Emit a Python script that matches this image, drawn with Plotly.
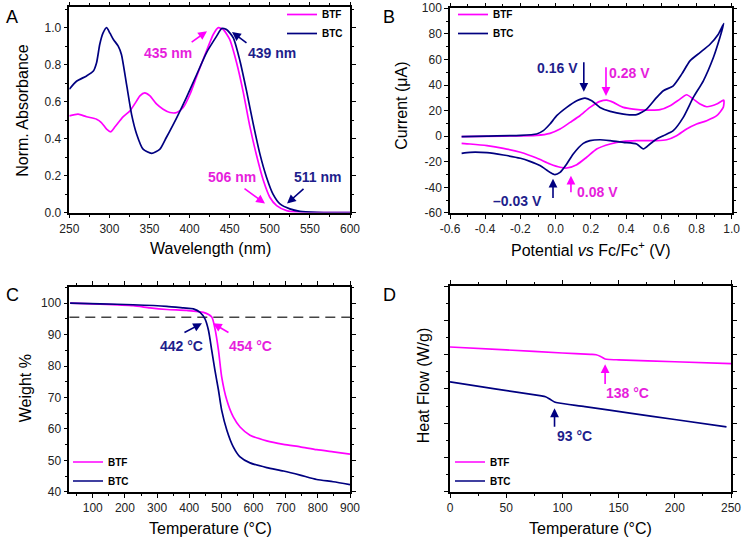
import plotly.graph_objects as go

# ---------------- Panel A: UV-vis ----------------
wl_btc = [250, 259, 271.6, 280, 284, 288, 292, 296.5, 300.7, 305, 311, 315, 321.5, 327.7, 334, 342, 352.6, 363, 371, 384, 396, 409, 421, 433.7, 440, 446, 454.5, 462.8, 471, 479.4, 487.7, 496, 504, 512.7, 525, 537.6, 558, 600]
abs_btc = [0.667, 0.71, 0.739, 0.765, 0.81, 0.91, 0.97, 1.0, 0.97, 0.936, 0.9, 0.855, 0.69, 0.53, 0.424, 0.343, 0.32, 0.343, 0.406, 0.514, 0.622, 0.748, 0.864, 0.954, 0.995, 0.99, 0.945, 0.82, 0.658, 0.478, 0.316, 0.19, 0.10, 0.047, 0.02, 0.007, 0.002, 0.0]
wl_btf = [250, 261, 271.6, 284, 290, 296.5, 301.5, 307, 317, 325.6, 334, 338, 344, 350.6, 359, 367, 375.5, 384, 392, 400.5, 409, 421, 429.5, 435.8, 442, 450, 458.6, 467, 475, 483.6, 492, 500, 508.5, 521, 537.6, 600]
abs_btf = [0.523, 0.532, 0.518, 0.505, 0.487, 0.451, 0.437, 0.464, 0.518, 0.55, 0.604, 0.631, 0.647, 0.631, 0.586, 0.559, 0.541, 0.541, 0.568, 0.64, 0.739, 0.873, 0.963, 1.0, 0.99, 0.936, 0.81, 0.649, 0.469, 0.307, 0.173, 0.083, 0.038, 0.011, 0.002, 0.0]

# ---------------- Panel B: CV ----------------
pot_btc = [-0.534, -0.39, -0.2, -0.108, -0.07, -0.032, 0.006, 0.063, 0.12, 0.167, 0.205, 0.252, 0.31, 0.385, 0.46, 0.517, 0.574, 0.612, 0.668, 0.716, 0.763, 0.82, 0.877, 0.924, 0.955,
           0.933, 0.896, 0.839, 0.782, 0.725, 0.668, 0.612, 0.574, 0.536, 0.498, 0.46, 0.385, 0.31, 0.252, 0.195, 0.157, 0.1, 0.063, 0.025, -0.004, -0.032, -0.089, -0.146, -0.2, -0.297, -0.39, -0.486, -0.534]
cur_btc = [-0.4, 0.1, 0.6, 1.7, 4.3, 9.5, 16, 22.5, 27.7, 29.8, 27.7, 22.5, 19.4, 17.3, 16.8, 21.2, 30.3, 35.5, 39.4, 48.5, 58.9, 65.4, 71.9, 79.7, 88,
           77.1, 61.5, 43.3, 30.3, 14.7, 4.3, 0.4, -2.2, -6.1, -10.0, -6.1, -4.8, -3.5, -2.8, -3.5, -5.6, -13.9, -21.7, -28.3, -30.1, -28.3, -23.0, -19.7, -17.3, -14.7, -12.9, -12.6, -13.4]
pot_btf = [-0.534, -0.297, -0.108, -0.032, 0.025, 0.082, 0.138, 0.195, 0.252, 0.29, 0.328, 0.385, 0.441, 0.517, 0.593, 0.65, 0.706, 0.744, 0.782, 0.82, 0.858, 0.915, 0.955,
           0.952, 0.915, 0.858, 0.801, 0.744, 0.687, 0.631, 0.574, 0.46, 0.385, 0.31, 0.233, 0.176, 0.12, 0.063, 0.025, -0.032, -0.108, -0.2, -0.297, -0.39, -0.486, -0.534]
cur_btf = [-0.4, 0.1, 0.6, 2.2, 5.6, 10.8, 16, 22.5, 27.2, 28.2, 26.4, 22.5, 21.2, 20.4, 20.7, 23.8, 29.0, 32.4, 29.0, 25.1, 23.0, 25.1, 28.2,
           22.5, 16, 12.1, 9.5, 5.6, 0.4, -2.8, -3.5, -3.5, -4.0, -6.1, -10.0, -16.5, -22.3, -24.9, -24.3, -21.7, -17.1, -12.6, -9.5, -7.4, -6.1, -5.6]
pot_ticks = [-0.6, -0.4, -0.2, 0.0, 0.2, 0.4, 0.6, 0.8, 1.0]
pot_ticktext = ["-0.6", "-0.4", "-0.2", "0.0", "0.2", "0.4", "0.6", "0.8", "1.0"]
cur_ticks = [-60, -40, -20, 0, 20, 40, 60, 80, 100]
cur_ticktext = ["-60", "-40", "-20", "0", "20", "40", "60", "80", "100"]

# ---------------- Panel C: TGA ----------------
t_btc = [29.5, 122.8, 226, 330, 382, 413, 433.7, 449, 460, 470, 480, 491, 501, 517, 537, 558, 589, 641, 693, 745, 796.5, 848, 900]
w_btc = [100, 99.8, 99.5, 99.0, 98.5, 98.2, 97.1, 95.0, 91.3, 85.0, 78.6, 72.3, 65.9, 59.6, 54.3, 51.1, 49.2, 47.7, 46.6, 45.3, 43.9, 43.2, 42.3]
t_btf = [29.5, 122.8, 226, 278, 330, 392, 444, 470, 480, 491, 501, 517, 537, 558, 589, 641, 693, 745, 796.5, 848, 900]
w_btf = [100, 99.7, 99.2, 98.5, 98.0, 97.7, 97.1, 95.6, 91.9, 85.0, 76.5, 69.1, 63.8, 60.6, 58.0, 56.2, 55.1, 54.3, 53.4, 52.7, 52.0]
t_limit = [27, 900]
w_limit = [95.5, 95.5]

# ---------------- Panel D: DSC ----------------
t_dsc_btf = [0, 50, 100, 125, 130, 134, 138, 142, 150, 200, 250]
hf_btf = [8.45, 8.28, 8.10, 8.02, 8.0, 7.9, 7.75, 7.72, 7.70, 7.59, 7.48]
t_dsc_btc = [0, 40, 80, 85, 89, 93, 97, 120, 160, 200, 246]
hf_btc = [6.41, 6.01, 5.61, 5.55, 5.40, 5.24, 5.18, 4.97, 4.59, 4.22, 3.79]

MAG = "#FF00FF"
NAVY = "#000080"
MAG_T = "#E61EDC"
NAVY_T = "#1E1E8C"
FONT = "Liberation Sans, Arial, sans-serif"

fig = go.Figure()

def add(x, y, name, color, xa, ya, legend, show=True):
    fig.add_trace(go.Scatter(x=x, y=y, mode="lines", name=name, xaxis=xa, yaxis=ya,
                             line=dict(color=color, width=1.7, shape="spline", smoothing=0.6),
                             legend=legend, showlegend=show, hoverinfo="skip"))

add(wl_btf, abs_btf, "BTF", MAG, "x", "y", "legend")
add(wl_btc, abs_btc, "BTC", NAVY, "x", "y", "legend")
add(pot_btf, cur_btf, "BTF", MAG, "x2", "y2", "legend2")
add(pot_btc, cur_btc, "BTC", NAVY, "x2", "y2", "legend2")
fig.add_trace(go.Scatter(x=t_limit, y=w_limit, mode="lines", xaxis="x3", yaxis="y3", hoverinfo="skip",
                         line=dict(color="#444444", width=1.5, dash="10px,6px"), showlegend=False))
add(t_btf, w_btf, "BTF", MAG, "x3", "y3", "legend3")
add(t_btc, w_btc, "BTC", NAVY, "x3", "y3", "legend3")
add(t_dsc_btf, hf_btf, "BTF", MAG, "x4", "y4", "legend4")
add(t_dsc_btc, hf_btc, "BTC", NAVY, "x4", "y4", "legend4")

W, H = 742, 538
def px(x): return x / W
def py(y): return 1 - y / H

def ax(domain, rng, dtick, minor, anchor, labels=True):
    return dict(domain=domain, range=rng, dtick=dtick, tick0=0, anchor=anchor, automargin=False,
                showline=True, linecolor="black", linewidth=1.5, mirror="ticks",
                ticks="outside", ticklen=4, tickwidth=1.2, tickcolor="black",
                minor=dict(dtick=minor, ticks="outside", ticklen=2.5, tickwidth=1, tickcolor="black"),
                showgrid=False, zeroline=False, showticklabels=labels,
                tickfont=dict(family=FONT, size=12, color="#222222"), ticklabelstandoff=0)

fig.update_layout(
    template="none",
    width=W, height=H, margin=dict(l=0, r=0, t=0, b=0, pad=0), autosize=False,
    paper_bgcolor="white", plot_bgcolor="white", font=dict(family=FONT),
    xaxis=ax([px(69.3), px(350)], [250, 600], 50, 25, "y"),
    yaxis=ax([py(212), py(6.3)], [0, 1.11], 0.2, 0.1, "x"),
    xaxis2=ax([px(450), px(731.7)], [-0.6, 1.0], 0.2, 0.1, "y2"),
    yaxis2=ax([py(212.3), py(7.3)], [-60, 100], 20, 10, "x2"),
    xaxis3=ax([px(69.3), px(350)], [27, 900], 100, 50, "y3"),
    yaxis3=ax([py(491.7), py(286.7)], [40, 105.1], 10, 5, "x3"),
    xaxis4=ax([px(450), px(731)], [0, 250], 50, 25, "y4"),
    yaxis4=ax([py(491.7), py(285.7)], [0, 12], 2, 1, "x4", labels=False),
)
fig.update_layout(yaxis=dict(tickformat=".1f"),
                  xaxis2=dict(tickmode="array", tickvals=pot_ticks, ticktext=pot_ticktext),
                  yaxis2=dict(tickmode="array", tickvals=cur_ticks, ticktext=cur_ticktext))

lf = dict(family=FONT, size=10, color="black", weight="bold")
def leg(x, y):
    return dict(x=px(x), y=py(y), xanchor="left", yanchor="top", bgcolor="rgba(0,0,0,0)",
                font=lf, itemwidth=30, tracegroupgap=0, borderwidth=0)
fig.update_layout(legend=leg(282, -1), legend2=leg(453, -1), legend3=leg(68, 447.5), legend4=leg(450, 447.5))

ann = []
def text(x, y, s, size=15, color="black", angle=0, weight="normal", xref="paper", yref="paper"):
    ann.append(dict(x=x, y=y, xref=xref, yref=yref, text=s, showarrow=False, textangle=angle,
                    font=dict(family=FONT, size=size, color=color, weight=weight),
                    xanchor="center", yanchor="middle"))

def arrow(xr, yr, x0, y0, x1, y1, color):
    ann.append(dict(xref=xr, yref=yr, axref=xr, ayref=yr, x=x1, y=y1, ax=x0, ay=y0, text="",
                    showarrow=True, arrowhead=2, arrowsize=1.1, arrowwidth=1.6, arrowcolor=color))

# Panel letters
text(px(12), py(16), "A", 18)
text(px(389), py(16), "B", 18)
text(px(12), py(295), "C", 18)
text(px(389), py(295), "D", 18)

# Axis titles
text(px(23), py(110), "Norm. Absorbance", 16, angle=-90)
text(px(210), py(248), "Wavelength (nm)", 16)
text(px(402), py(105), "Current (\u03bcA)", 16, angle=-90)
text(px(590), py(248), "Potential <i>vs</i> Fc/Fc<sup>+</sup> (V)", 16)
text(px(25), py(388), "Weight %", 16, angle=-90)
text(px(210), py(528), "Temperature (\u00b0C)", 16)
text(px(423), py(385), "Heat Flow (W/g)", 16, angle=-90)
text(px(590), py(528), "Temperature (\u00b0C)", 16)

# Panel A annotations
text(373, 0.862, "435 nm", 14, MAG_T, weight="bold", xref="x", yref="y")
arrow("x", "y", 400.7, 0.916, 421.7, 0.981, MAG)
text(502.7, 0.862, "439 nm", 14, NAVY_T, weight="bold", xref="x", yref="y")
arrow("x", "y", 472.8, 0.911, 452.9, 0.976, NAVY)
text(453, 0.194, "506 nm", 14, MAG_T, weight="bold", xref="x", yref="y")
arrow("x", "y", 466.6, 0.135, 494, 0.049, MAG)
text(560, 0.194, "511 nm", 14, NAVY_T, weight="bold", xref="x", yref="y")
arrow("x", "y", 543.9, 0.135, 521.5, 0.049, NAVY)

# Panel B annotations
text(0.013, 53.4, "0.16 V", 14, NAVY_T, weight="bold", xref="x2", yref="y2")
arrow("x2", "y2", 0.16, 58.9, 0.16, 34.7, NAVY)
text(0.422, 49.5, "0.28 V", 14, MAG_T, weight="bold", xref="x2", yref="y2")
arrow("x2", "y2", 0.286, 55.0, 0.286, 31.5, MAG)
text(-0.219, -50.4, "\u20130.03 V", 14, NAVY_T, weight="bold", xref="x2", yref="y2")
arrow("x2", "y2", -0.015, -49.6, -0.015, -33.2, NAVY)
text(0.235, -43.4, "0.08 V", 14, MAG_T, weight="bold", xref="x2", yref="y2")
arrow("x2", "y2", 0.087, -45, 0.087, -31, MAG)

# Panel C annotations
text(377.4, 86.3, "442 \u00b0C", 14, NAVY_T, weight="bold", xref="x3", yref="y3")
arrow("x3", "y3", 380.5, 90.4, 439.6, 93.6, NAVY)
text(592, 86.3, "454 \u00b0C", 14, MAG_T, weight="bold", xref="x3", yref="y3")
arrow("x3", "y3", 526.7, 90.4, 473.8, 93.6, MAG)

# Panel D annotations
text(158, 5.74, "138 \u00b0C", 14, MAG_T, weight="bold", xref="x4", yref="y4")
arrow("x4", "y4", 138, 6.21, 138, 7.44, MAG)
text(111, 3.24, "93 \u00b0C", 14, NAVY_T, weight="bold", xref="x4", yref="y4")
arrow("x4", "y4", 93, 3.71, 93, 4.87, NAVY)

fig.update_layout(annotations=ann, hovermode=False)
fig.write_html("out.html", config={"displayModeBar": False},
               post_script="document.body.style.margin='0';document.body.style.overflow='hidden';")
